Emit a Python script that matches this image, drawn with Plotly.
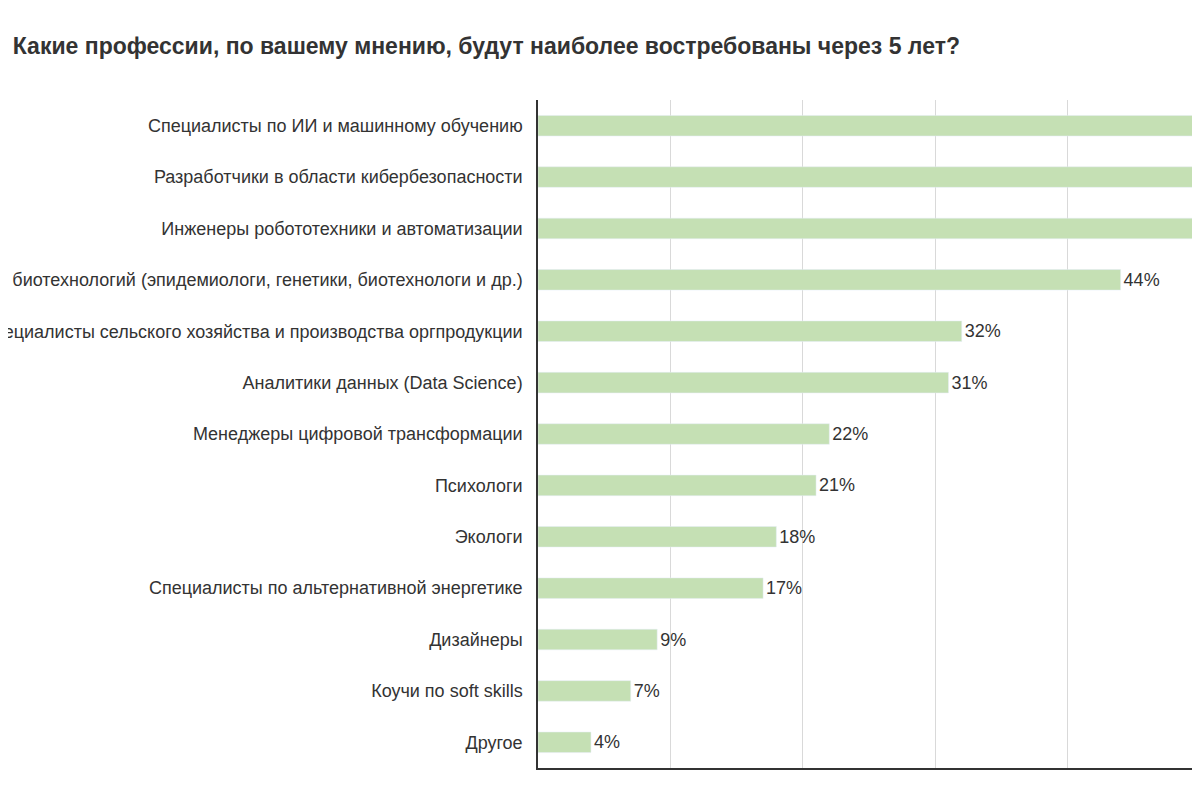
import plotly.graph_objects as go

categories = [
    "Специалисты по ИИ и машинному обучению",
    "Разработчики в области кибербезопасности",
    "Инженеры робототехники и автоматизации",
    "Специалисты в области биотехнологий (эпидемиологи, генетики, биотехнологи и др.)",
    "Специалисты сельского хозяйства и производства оргпродукции",
    "Аналитики данных (Data Science)",
    "Менеджеры цифровой трансформации",
    "Психологи",
    "Экологи",
    "Специалисты по альтернативной энергетике",
    "Дизайнеры",
    "Коучи по soft skills",
    "Другое",
]
values = [62, 58, 54, 44, 32, 31, 22, 21, 18, 17, 9, 7, 4]
labels = [f"{v}%" for v in values]

fig = go.Figure(go.Bar(
    x=values, y=categories, orientation="h",
    marker=dict(color="#c5e0b4"), width=0.4,
    text=labels, textposition="outside", cliponaxis=True,
    textfont=dict(size=18, color="#333333", family="Liberation Sans"),
))
fig.update_layout(
    width=1200, height=800,
    margin=dict(l=530, r=0, t=92, b=40, autoexpand=False),
    plot_bgcolor="white", paper_bgcolor="white",
    showlegend=False,
    title=dict(text="<b>Какие профессии, по вашему мнению, будут наиболее востребованы через 5 лет?</b>",
               x=0.004, xanchor="left", y=0.952, yanchor="middle",
               font=dict(size=23, color="#333333", family="Liberation Sans")),
    font=dict(family="Liberation Sans", color="#333333"),
)
fig.update_xaxes(range=[0, 50.6], dtick=10, showticklabels=False, automargin=False,
                 showgrid=True, gridcolor="#d9d9d9", gridwidth=1,
                 zeroline=False, showline=True, linecolor="#333333", linewidth=1.5)
fig.update_yaxes(autorange="reversed", automargin=False, tickfont=dict(size=18, color="#333333"),
                 showline=True, linecolor="#333333", linewidth=1.5, ticks="", ticksuffix="  ")
fig.write_html("out.html")
